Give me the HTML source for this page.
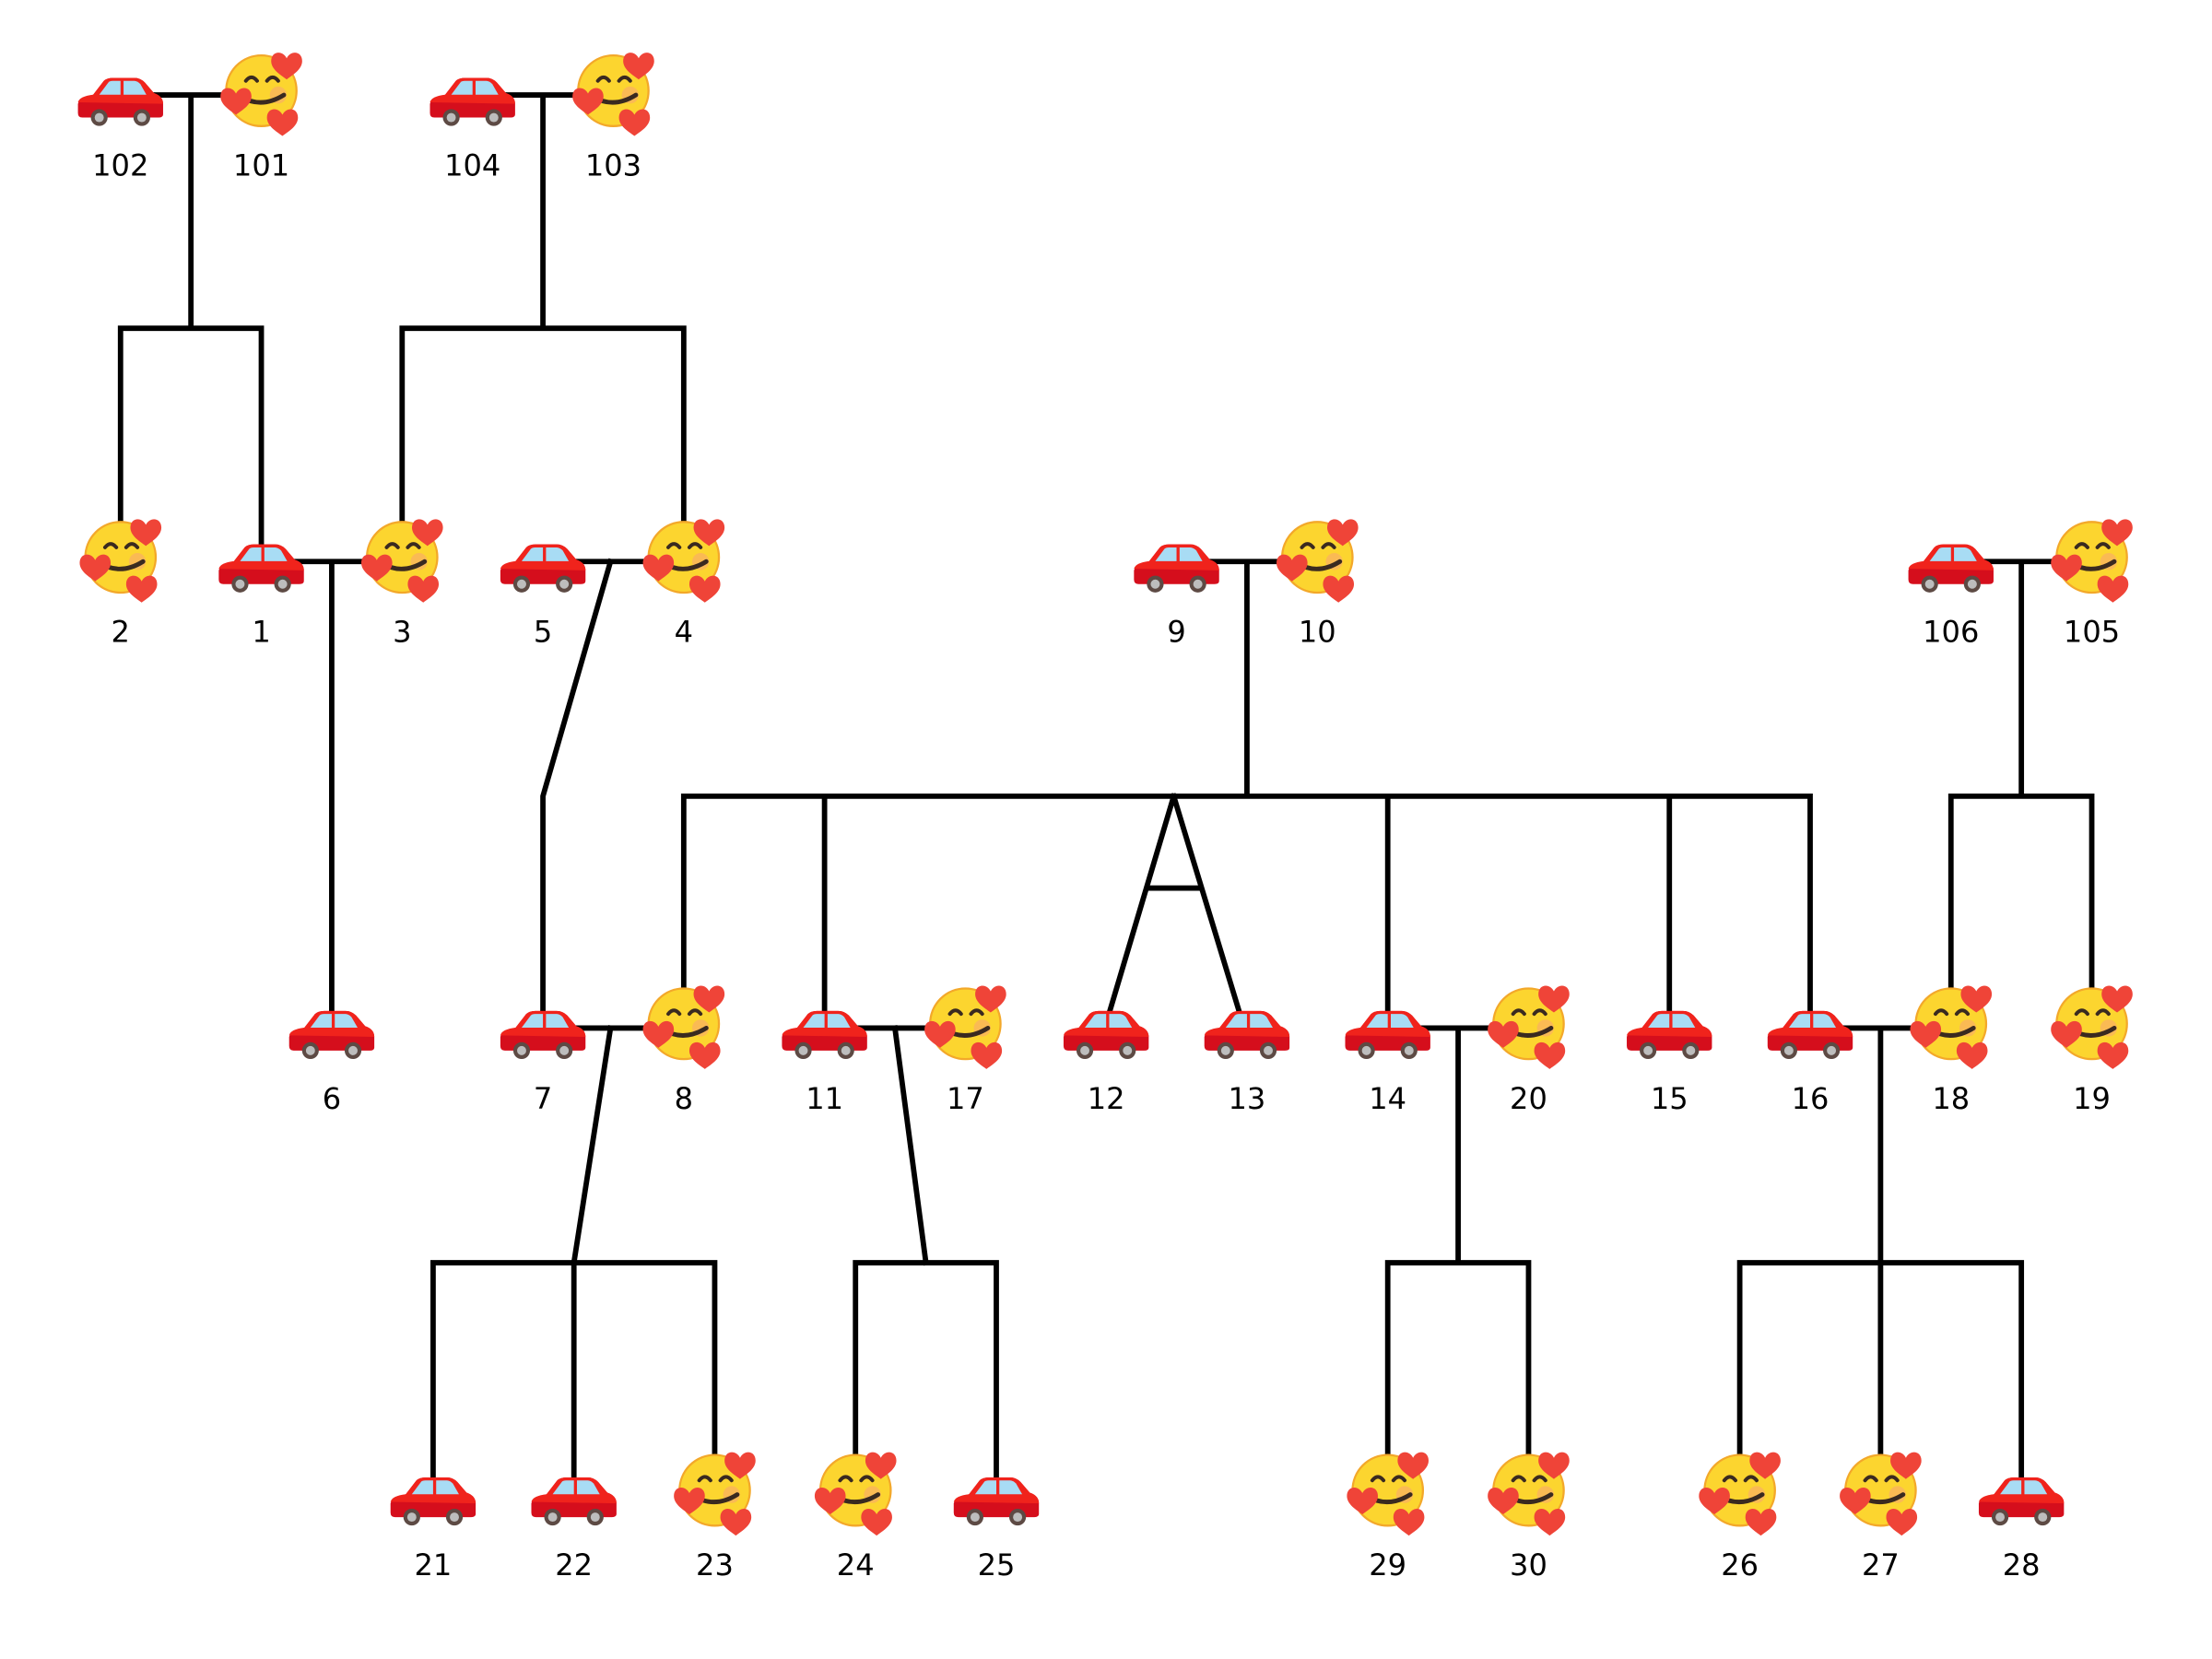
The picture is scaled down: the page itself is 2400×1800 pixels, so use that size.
<!DOCTYPE html>
<html><head><meta charset="utf-8"><style>html,body{margin:0;padding:0;background:#fff}svg{display:block}</style></head><body>
<svg width="2400" height="1800" viewBox="0 0 1560 1170" preserveAspectRatio="none" xmlns="http://www.w3.org/2000/svg">
<defs>
<g id="car">
<g transform="scale(1.08)">
<path d="M-18,-3 L-11,-12 Q-9,-14 -5,-14 L9,-14 Q13,-14 16,-11 L22,-4 Q28,-2 28,3 L28,10 Q28,12 25,12 L-25,12 Q-28,12 -28,9 L-28,3 Q-27,-1 -18,-3 Z" fill="#d50e1c"/>
<path d="M-28,2 Q-27,-2 -18,-3 L-11,-12 Q-9,-14 -5,-14 L9,-14 Q13,-14 16,-11 L22,-4 Q28,-2 28,3 Z" fill="#f0231c"/>
<path d="M-14,-3 L-8,-11 Q-7,-12 -5,-12 L0,-12 L0,-3 Z" fill="#a8dcf4"/>
<path d="M2,-12 L9,-12 Q11,-12 13,-10 L17,-3 L2,-3 Z" fill="#a8dcf4"/>
<circle cx="-14" cy="12" r="5.5" fill="#5d4a44"/><circle cx="-14" cy="12" r="3" fill="#bdbdbd"/>
<circle cx="14" cy="12" r="5.5" fill="#5d4a44"/><circle cx="14" cy="12" r="3" fill="#bdbdbd"/>
</g>
</g>
<path id="heart" d="M0,-3 C-3,-9 -11,-8 -11,-1 C-11,5 -4,9 0,12 C4,9 11,5 11,-1 C11,-8 3,-9 0,-3 Z" fill="#ef4438"/>
<g id="face">
<circle cx="0" cy="0" r="25" fill="#fcd52f" stroke="#f3a82a" stroke-width="1.5"/>
<circle cx="12" cy="3" r="6" fill="#f8a07a" opacity="0.5"/>
<path d="M-11,-7 Q-7,-12 -3,-7" fill="none" stroke="#3a2a20" stroke-width="2.6" stroke-linecap="round"/>
<path d="M4,-7 Q8,-12 12,-7" fill="none" stroke="#3a2a20" stroke-width="2.6" stroke-linecap="round"/>
<path d="M-15,4 Q0,13 16,3" fill="none" stroke="#3a2a20" stroke-width="3.2" stroke-linecap="round"/>
<use href="#heart" transform="translate(18,-20)"/>
<use href="#heart" transform="translate(-18,5)"/>
<use href="#heart" transform="translate(15,20)"/>
</g>
</defs>
<g transform="translate(85,67) scale(0.993,0.997) translate(-85,-67)">
<g stroke="#000" stroke-width="3.8" fill="none" stroke-linecap="square">
<path d="M110,67H160 M135,67V232 M85,232H185 M85,232V372 M185,232V385"/>
<path d="M360,67H410 M385,67V232 M285,232H485 M285,232V372 M485,232V372"/>
<path d="M210,397H260 M235,397V715"/>
<path d="M410,397H460 M433,397L385,563V715"/>
<path d="M860,397H910 M885,397V563 M485,563H1285 M485,563V702 M585,563V715 M985,563V715 M1185,563V715 M1285,563V715"/>
<path d="M833,563L787,717 M833,563L880,717 M815,628H852"/>
<path d="M1410,397H1460 M1435,397V563 M1385,563H1485 M1385,563V702 M1485,563V702"/>
<path d="M410,727H460 M433,727L407,893 M307,893H507 M307,893V1045 M407,893V1045 M507,893V1032"/>
<path d="M610,727H660 M635,727L657,893 M607,893H707 M607,893V1032 M707,893V1045"/>
<path d="M1010,727H1060 M1035,727V893 M985,893H1085 M985,893V1032 M1085,893V1032"/>
<path d="M1310,727H1360 M1335,727V893 M1235,893H1435 M1235,893V1032 M1335,893V1032 M1435,893V1045"/>
</g>
<g>
<use href="#car" x="85" y="70"/><use href="#face" x="185" y="64"/>
<use href="#car" x="335" y="70"/><use href="#face" x="435" y="64"/>
<use href="#face" x="85" y="394"/><use href="#car" x="185" y="400"/><use href="#face" x="285" y="394"/><use href="#car" x="385" y="400"/><use href="#face" x="485" y="394"/>
<use href="#car" x="835" y="400"/><use href="#face" x="935" y="394"/>
<use href="#car" x="1385" y="400"/><use href="#face" x="1485" y="394"/>
<use href="#car" x="235" y="730"/><use href="#car" x="385" y="730"/><use href="#face" x="485" y="724"/>
<use href="#car" x="585" y="730"/><use href="#face" x="685" y="724"/><use href="#car" x="785" y="730"/><use href="#car" x="885" y="730"/>
<use href="#car" x="985" y="730"/><use href="#face" x="1085" y="724"/><use href="#car" x="1185" y="730"/><use href="#car" x="1285" y="730"/>
<use href="#face" x="1385" y="724"/><use href="#face" x="1485" y="724"/>
<use href="#car" x="307" y="1060"/><use href="#car" x="407" y="1060"/><use href="#face" x="507" y="1054"/><use href="#face" x="607" y="1054"/><use href="#car" x="707" y="1060"/>
<use href="#face" x="985" y="1054"/><use href="#face" x="1085" y="1054"/>
<use href="#face" x="1235" y="1054"/><use href="#face" x="1335" y="1054"/><use href="#car" x="1435" y="1060"/>
</g>
<g font-family="DejaVu Sans, Liberation Sans, sans-serif" font-size="21" text-anchor="middle" fill="#000">
<text x="85" y="124">102</text><text x="185" y="124">101</text><text x="335" y="124">104</text><text x="435" y="124">103</text>
<text x="85" y="454">2</text><text x="185" y="454">1</text><text x="285" y="454">3</text><text x="385" y="454">5</text><text x="485" y="454">4</text>
<text x="835" y="454">9</text><text x="935" y="454">10</text><text x="1385" y="454">106</text><text x="1485" y="454">105</text>
<text x="235" y="784">6</text><text x="385" y="784">7</text><text x="485" y="784">8</text><text x="585" y="784">11</text><text x="685" y="784">17</text>
<text x="785" y="784">12</text><text x="885" y="784">13</text><text x="985" y="784">14</text><text x="1085" y="784">20</text><text x="1185" y="784">15</text>
<text x="1285" y="784">16</text><text x="1385" y="784">18</text><text x="1485" y="784">19</text>
<text x="307" y="1114">21</text><text x="407" y="1114">22</text><text x="507" y="1114">23</text><text x="607" y="1114">24</text><text x="707" y="1114">25</text>
<text x="985" y="1114">29</text><text x="1085" y="1114">30</text><text x="1235" y="1114">26</text><text x="1335" y="1114">27</text><text x="1435" y="1114">28</text>
</g>
</g>
</svg>
</body></html>
